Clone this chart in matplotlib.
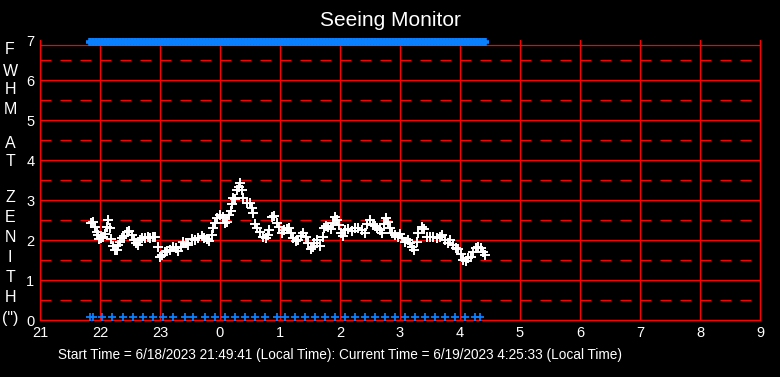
import matplotlib
matplotlib.use("Agg")
import matplotlib.pyplot as plt
import numpy as np

plt.rcParams['font.family'] = ['Liberation Sans', 'DejaVu Sans']

# minutes after 21:00 and FWHM values (arcsec)
seeing_minutes = [51, 53.3, 55, 56.7, 57.7, 59, 61, 63.3, 65, 66.7, 68.3, 70, 71, 73.3, 75, 76.7, 78.3, 80,
                  81.7, 84.3, 86.7, 89, 91.7, 94.3, 95.7, 97.7, 100, 102.3, 105, 107.7, 110, 113.3, 115, 117.7,
                  120, 122.3, 125, 126.7, 130, 133.3, 136, 138.3, 140.7, 143.3, 146, 148.3, 151.7, 155, 158.3,
                  161.7, 164, 166.7, 169.3, 171.7, 172.7, 175, 177.3, 180, 182.7, 185, 187.3, 189.3, 190.7,
                  191.7, 193.3, 195, 197.3, 199.3, 200, 201.7, 203.3, 206.7, 210, 211.7, 213.3, 215, 216.7,
                  220, 223.3, 225.7, 228.3, 229.3, 231.7, 234.3, 236.7, 239, 241.7, 244.3, 246.7, 249, 251,
                  253.3, 255.7, 258.3, 261, 263.3, 265.7, 268.3, 271, 273.3, 274, 277.3, 280, 282.7, 284, 286,
                  288.3, 290.7, 293.3, 295.3, 297.3, 299.3, 300.7, 302.7, 305, 308.3, 311.7, 315, 318.3, 321.7,
                  325, 327.3, 330, 332.7, 335, 337.3, 340, 341.7, 344, 346, 348.3, 350, 352.3, 355, 357.7, 360,
                  362.3, 365, 367.7, 370, 372.3, 374.3, 376.7, 378.3, 381.7, 384.3, 386.7, 390, 393.3, 396.7,
                  400, 402.3, 405, 407.7, 410, 413.3, 415.7, 418.3, 421, 423.3, 425.7, 428.3, 431, 433.3, 435.7,
                  438.3, 441, 443.3, 445]
seeing_fwhm = [2.42, 2.46, 2.33, 2.21, 2.13, 2.03, 2.04, 2.08, 2.14, 2.33, 2.5, 2.29, 2.03, 1.86, 1.75, 1.75, 1.88, 1.96,
               2.04, 2.11, 2.21, 2.23, 2.13, 2.0, 1.92, 1.88, 2.0, 2.06, 2.04, 2.08, 2.06, 2.08, 2.08, 1.83,
               1.58, 1.63, 1.71, 1.73, 1.75, 1.83, 1.81, 1.73, 1.83, 1.96, 1.92, 1.88, 2.03, 2.0, 2.06,
               2.11, 2.06, 2.03, 1.98, 2.13, 2.29, 2.42, 2.54, 2.63, 2.58, 2.42, 2.46, 2.63, 2.73,
               2.89, 3.06, 3.03, 3.25, 3.33, 3.42, 3.25, 3.04, 2.92, 2.92, 2.79, 2.67, 2.39, 2.29,
               2.21, 2.08, 2.04, 2.13, 2.25, 2.58, 2.61, 2.42, 2.33, 2.17, 2.25, 2.27, 2.29, 2.17,
               2.04, 1.98, 2.0, 2.11, 2.17, 2.08, 1.92, 1.78, 1.83, 1.92, 2.0, 1.86, 2.08, 2.29, 2.36,
               2.33, 2.27, 2.42, 2.58, 2.5, 2.38, 2.17, 2.11, 2.25, 2.27, 2.23, 2.29, 2.31, 2.25,
               2.17, 2.39, 2.5, 2.38, 2.36, 2.29, 2.25, 2.17, 2.39, 2.56, 2.46, 2.29, 2.17, 2.13, 2.08, 2.14,
               2.06, 1.96, 2.0, 1.92, 1.83, 1.75, 1.96, 2.17, 2.33, 2.27, 2.08, 2.08, 2.08, 2.06,
               2.08, 2.13, 2.0, 1.92, 2.0, 1.88, 1.81, 1.78, 1.64, 1.5, 1.48, 1.54, 1.58, 1.69, 1.79,
               1.83, 1.79, 1.69, 1.63]

# status markers (minutes after 21:00)
top_minutes = [50, 53, 56, 59, 62, 65, 68, 71, 74, 77, 80, 83, 86, 89, 92, 95, 98, 101, 104, 107, 110, 113,
               116, 119, 122, 125, 128, 131, 134, 137, 140, 143, 146, 149, 152, 155, 158, 161, 164, 167, 170,
               173, 176, 179, 182, 185, 188, 191, 194, 197, 200, 203, 206, 209, 212, 215, 218, 221, 224, 227,
               230, 233, 236, 239, 242, 245, 248, 251, 254, 257, 260, 263, 266, 269, 272, 275, 278, 281, 284,
               287, 290, 293, 296, 299, 302, 305, 308, 311, 314, 317, 320, 323, 326, 329, 332, 335, 338, 341,
               344, 347, 350, 353, 356, 359, 362, 365, 368, 371, 374, 377, 380, 383, 386, 389, 392, 395, 398,
               401, 404, 407, 410, 413, 416, 419, 422, 425, 428, 431, 434, 437, 440, 443, 445]
bottom_minutes = [50, 53, 62, 72, 83, 93, 103, 113, 123, 133, 145, 153, 165, 175, 185, 195, 205, 215, 225,
                  237, 245, 255, 265, 275, 285, 295, 305, 315, 325, 335, 345, 355, 365, 375, 385, 395, 405,
                  415, 425, 435, 440]

x_ticks = [21, 22, 23, 24, 25, 26, 27, 28, 29, 30, 31, 32, 33]
x_labels = ['21', '22', '23', '0', '1', '2', '3', '4', '5', '6', '7', '8', '9']
y_ticks = [0, 1, 2, 3, 4, 5, 6, 7]
ylabel_letters = ['F', 'W', 'H', 'M', '', 'A', 'T', '', 'Z', 'E', 'N', 'I', 'T', 'H', '(")']

title = 'Seeing Monitor'
footer = 'Start Time = 6/18/2023 21:49:41 (Local Time): Current Time = 6/19/2023 4:25:33 (Local Time)'

W, H = 780, 377
fig = plt.figure(figsize=(W / 100, H / 100), dpi=100, facecolor='black')
ax = fig.add_axes([40 / W, (H - 320) / H, 720 / W, 280 / H])
ax.set_facecolor('black')
ax.set_xlim(21, 33)
ax.set_ylim(0, 7)

red = '#FF0000'
blue = '#0A80FF'
lw = 0.9
for x in x_ticks:
    ax.axvline(x, color=red, lw=lw, zorder=1)
for y in range(0, 7):
    ax.axhline(y, color=red, lw=lw, zorder=1)
ax.axhline(6.875, color=red, lw=lw, zorder=1)
for y in [0.5, 1.5, 2.5, 3.5, 4.5, 5.5, 6.5]:
    ax.axhline(y, color=red, lw=lw, zorder=1, linestyle=(0, (11 * 0.72 / lw, 9 * 0.72 / lw)))

for s in ['top']:
    ax.spines[s].set_visible(False)
for s in ['left', 'right', 'bottom']:
    ax.spines[s].set_color(red)
    ax.spines[s].set_linewidth(lw)

tx = [21 + m / 60 for m in seeing_minutes]
ax.plot(tx, seeing_fwhm, linestyle='none', marker='+', color='white', markersize=6.5, mew=1.4, zorder=3)

ax.plot([21 + m / 60 for m in top_minutes], [6.95] * len(top_minutes), linestyle='none', marker='+',
        color=blue, markersize=6, mew=2.6, zorder=4, clip_on=False)
ax.plot([21 + m / 60 for m in bottom_minutes], [0.08] * len(bottom_minutes), linestyle='none', marker='+',
        color=blue, markersize=6, mew=1.3, zorder=4, clip_on=False)

ax.set_xticks(x_ticks)
ax.set_xticklabels(x_labels)
ax.set_yticks(y_ticks)
ax.tick_params(colors='white', labelsize=10.5, length=0, pad=4)

fig.text(0.5, 1 - 20 / H, title, color='white', fontsize=15, ha='center', va='center')
fig.text(340 / W, 1 - 355 / H, footer, color='white', fontsize=9.8, ha='center', va='center')

ys = [50, 71, 90, 110, 127, 143, 162, 180, 197, 217, 237, 257, 277, 297, 318]
for letter, yp in zip(ylabel_letters, ys):
    if letter:
        fig.text(10 / W, 1 - yp / H, letter, color='white', fontsize=11.5, ha='center', va='center')

fig.savefig('out.png', dpi=100, facecolor='black')
